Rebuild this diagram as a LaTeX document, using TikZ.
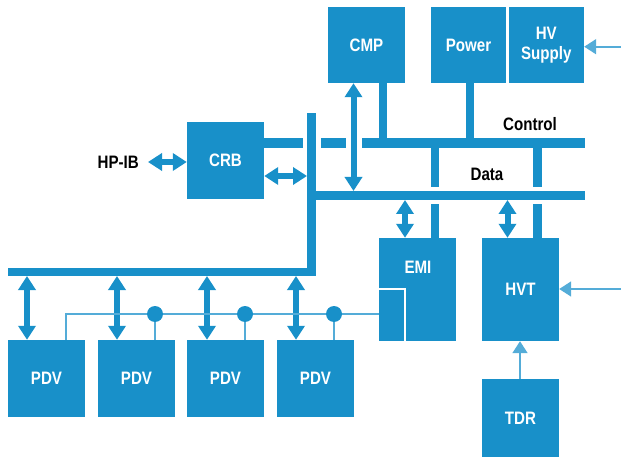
\documentclass[tikz,border=0pt]{standalone}
\usepackage{fontspec}
\setmainfont{Liberation Sans}[FakeStretch=0.84]
\usetikzlibrary{arrows.meta}
\definecolor{hpblue}{RGB}{24,144,201}
\definecolor{thinblue}{RGB}{84,172,216}
\begin{document}
\begin{tikzpicture}[x=1pt,y=-1pt,
  box/.style={fill=hpblue, draw=none, text=white, font=\fontsize{18}{20}\selectfont\bfseries, align=center, inner sep=0pt},
  wtxt/.style={text=white, font=\fontsize{18}{20}\selectfont\bfseries, inner sep=0pt},
  lbl/.style={text=black, font=\fontsize{18}{20}\selectfont\bfseries, inner sep=0pt},
  bar/.style={fill=hpblue},
  dbl/.style={draw=hpblue, line width=6pt, {Triangle[width=17pt,length=14pt]}-{Triangle[width=17pt,length=14pt]}},
  thinln/.style={draw=thinblue, line width=1.8pt},
  thinarrow/.style={draw=thinblue, line width=1.8pt, -{Triangle[width=15pt,length=12pt]}},
  dot/.style={circle, fill=hpblue, minimum size=16pt, inner sep=0pt},
]
\useasboundingbox (0,0) rectangle (621,457);

% boxes
\node[box, minimum width=77pt, minimum height=76pt] (cmp) at (366.5,45) {CMP};
\node[box, minimum width=75pt, minimum height=76pt] (pwr) at (468.5,45) {Power};
\node[box, minimum width=75.5pt, minimum height=76pt] (hvs) at (546.25,45) {HV\\Supply};
\node[box, minimum width=77pt, minimum height=77pt] (crb) at (225.5,160.5) {CRB};
\node[box, minimum width=77pt, minimum height=103pt] (emi) at (417.5,289.5) {};
\node[wtxt] (emitxt) at (418,267) {EMI};
\node[box, minimum width=77pt, minimum height=103pt] (hvt) at (520.5,289.5) {HVT};
\node[box, minimum width=77pt, minimum height=78pt] (tdr) at (520.5,418) {TDR};
\node[box, minimum width=77pt, minimum height=77pt] (pdv1) at (46.5,378.5) {PDV};
\node[box, minimum width=77pt, minimum height=77pt] (pdv2) at (136.5,378.5) {PDV};
\node[box, minimum width=77pt, minimum height=77pt] (pdv3) at (225.5,378.5) {PDV};
\node[box, minimum width=77pt, minimum height=77pt] (pdv4) at (315.5,378.5) {PDV};

% white inner line in EMI
\draw[white, line width=1.6pt] (379,289) -- (405,289) -- (405,341);

% buses
\fill[bar] (264,138) rectangle (303,148);
\fill[bar] (321,138) rectangle (346,148);
\fill[bar] (362,138) rectangle (585,148);
\fill[bar] (307,113) rectangle (316,276);
\fill[bar] (307,191) rectangle (585,200);
\fill[bar] (8,268) rectangle (316,276);
% stubs
\fill[bar] (379,83) rectangle (387,138);
\fill[bar] (466,83) rectangle (474,138);
\fill[bar] (431,148) rectangle (439,187);
\fill[bar] (431,204) rectangle (439,238);
\fill[bar] (533,148) rectangle (541.5,187);
\fill[bar] (533,204) rectangle (541.5,238);

% labels
\node[lbl, anchor=east] (hpib) at (139,162) {HP-IB};
\node[lbl] (ctl) at (530,124) {Control};
\node[lbl] (dat) at (487,174) {Data};

% double arrows
\coordinate (hpa) at (148,162);
\draw[dbl] (hpa) -- (hpa -| crb.west);
\coordinate (vb) at (307,176);
\draw[dbl] (vb -| crb.east) -- (vb);
\coordinate (d1) at (353.5,191);
\draw[dbl] (d1 |- cmp.south) -- (d1);
\coordinate (d2) at (405,200);
\draw[dbl] (d2) -- (d2 |- emi.north);
\coordinate (d3) at (507.5,200);
\draw[dbl] (d3) -- (d3 |- hvt.north);
\coordinate (b1) at (27,276);
\coordinate (b2) at (117,276);
\coordinate (b3) at (207,276);
\coordinate (b4) at (296,276);
\draw[dbl] (b1) -- (b1 |- pdv1.north);
\draw[dbl] (b2) -- (b2 |- pdv2.north);
\draw[dbl] (b3) -- (b3 |- pdv3.north);
\draw[dbl] (b4) -- (b4 |- pdv4.north);

% thin chain
\coordinate (c0) at (66,314);
\draw[thinln] (c0 |- pdv1.north) -- (c0) -- (c0 -| emi.west);
\coordinate (k2c) at (155,314);
\coordinate (k3c) at (245,314);
\coordinate (k4c) at (334,314);
\draw[thinln] (k2c) -- (k2c |- pdv2.north);
\draw[thinln] (k3c) -- (k3c |- pdv3.north);
\draw[thinln] (k4c) -- (k4c |- pdv4.north);
\node[dot] (k2) at (k2c) {};
\node[dot] (k3) at (k3c) {};
\node[dot] (k4) at (k4c) {};

% thin arrows
\coordinate (in1) at (621,46.7);
\draw[thinarrow] (in1) -- (in1 -| hvs.east);
\coordinate (in2) at (621,289);
\draw[thinarrow] (in2) -- (in2 -| hvt.east);
\coordinate (td) at (520,379);
\draw[thinarrow] (td) -- (td |- hvt.south);
\end{tikzpicture}
\end{document}
